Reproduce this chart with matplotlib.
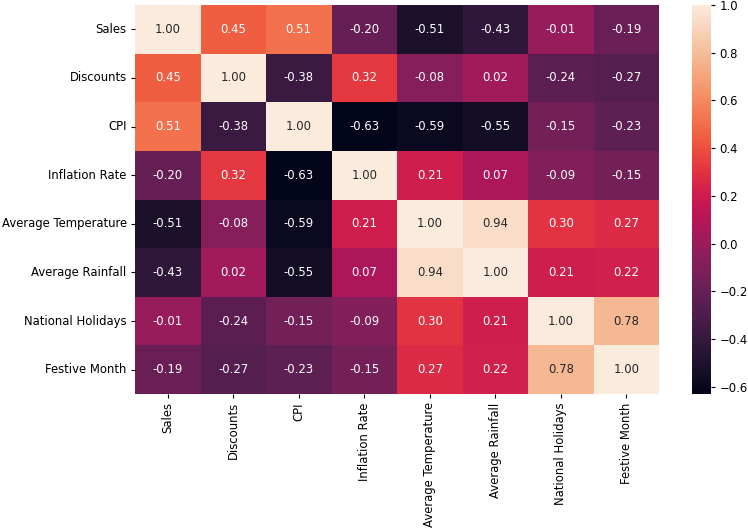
import matplotlib
matplotlib.use("Agg")
import matplotlib.pyplot as plt
import seaborn as sns
import numpy as np
import pandas as pd

labels = ["Sales", "Discounts", "CPI", "Inflation Rate", "Average Temperature",
          "Average Rainfall", "National Holidays", "Festive Month"]

corr_values = [
    [1.00, 0.45, 0.51, -0.20, -0.51, -0.43, -0.01, -0.19],
    [0.45, 1.00, -0.38, 0.32, -0.08, 0.02, -0.24, -0.27],
    [0.51, -0.38, 1.00, -0.63, -0.59, -0.55, -0.15, -0.23],
    [-0.20, 0.32, -0.63, 1.00, 0.21, 0.07, -0.09, -0.15],
    [-0.51, -0.08, -0.59, 0.21, 1.00, 0.94, 0.30, 0.27],
    [-0.43, 0.02, -0.55, 0.07, 0.94, 1.00, 0.21, 0.22],
    [-0.01, -0.24, -0.15, -0.09, 0.30, 0.21, 1.00, 0.78],
    [-0.19, -0.27, -0.23, -0.15, 0.27, 0.22, 0.78, 1.00],
]

df = pd.DataFrame(corr_values, index=labels, columns=labels)

fs = 8.4
plt.rcParams["font.size"] = fs

W, H = 748, 532
fig = plt.figure(figsize=(W / 100, H / 100), dpi=100)
ax = fig.add_axes([135 / W, 1 - 394 / H, 524 / W, 389 / H])
cax = fig.add_axes([692 / W, 1 - 394 / H, 19 / W, 389 / H])

sns.heatmap(df, annot=True, fmt=".2f", ax=ax, cbar_ax=cax,
            annot_kws={"fontsize": fs})
ax.tick_params(labelsize=fs, length=3, pad=3)
cax.tick_params(labelsize=fs, length=3, pad=3)

plt.savefig("out.png", dpi=100)
